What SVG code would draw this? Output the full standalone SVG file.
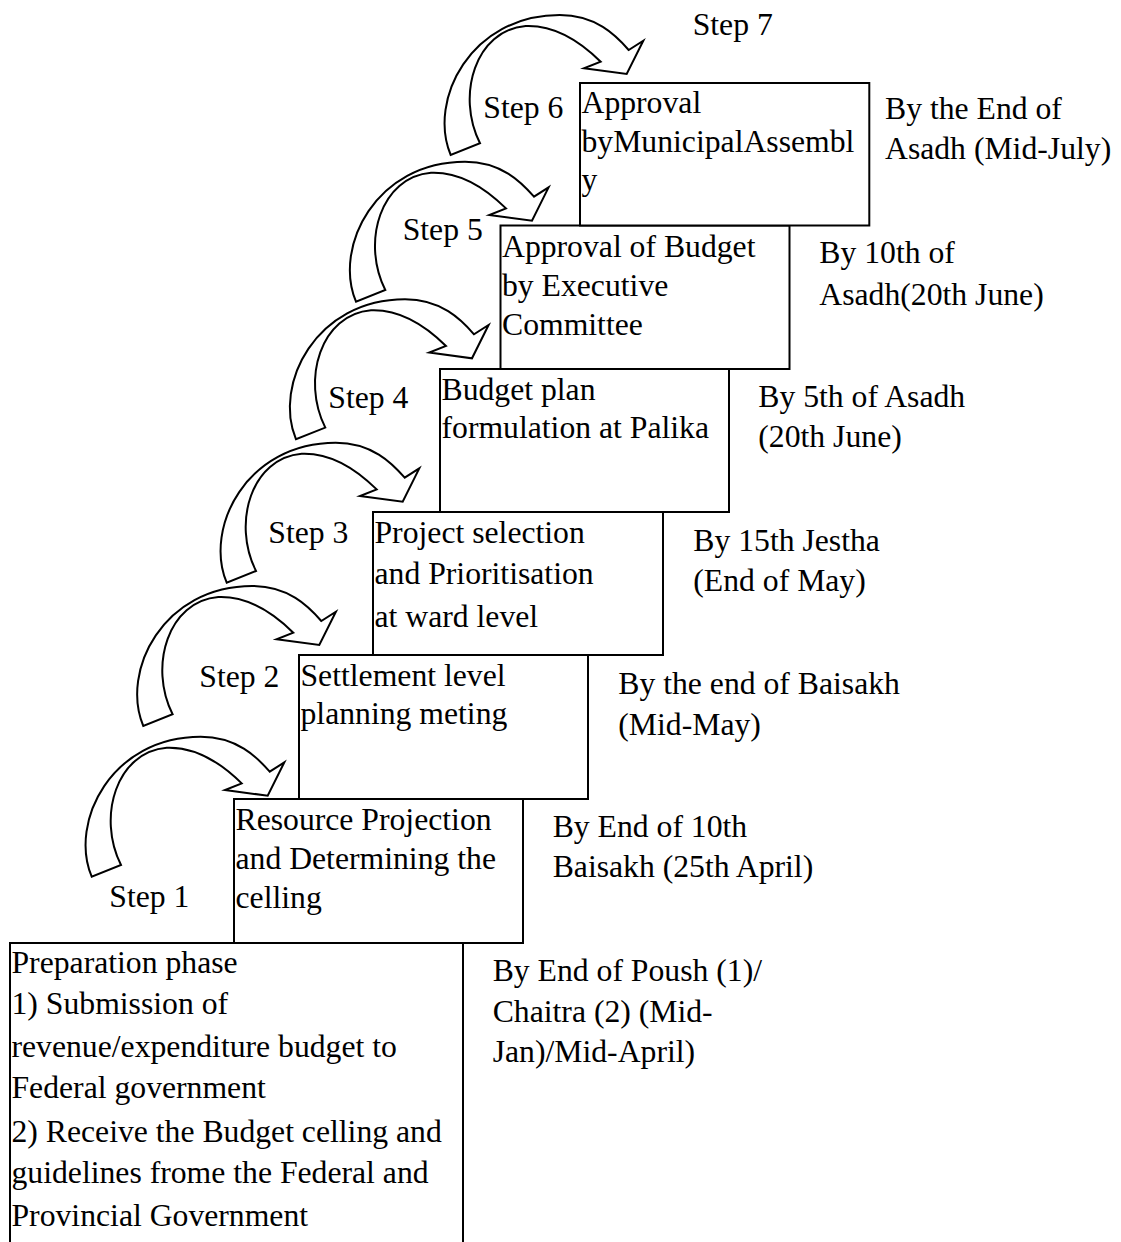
<svg xmlns="http://www.w3.org/2000/svg" width="1121" height="1242" viewBox="0 0 1121 1242">
<style>
text{font-family:"Liberation Serif","Times New Roman",serif;font-size:31.7px;fill:#000}
.box{fill:#fff;stroke:#000;stroke-width:2}
.arr{fill:#fff;stroke:#000;stroke-width:2;stroke-linejoin:miter}
</style>
<defs>
<path id="carrow" class="arr" d="M0,0 C-23,-55 20,-140 109,-140 C145,-140 165,-120 178,-105 L192.6,-114.3 L176,-81 L133.3,-86.7 L150,-93.3 C125,-118 100,-130 75,-129 C25,-125 5,-60 29.3,-11.7 Z"/>
</defs>
<rect width="1121" height="1242" fill="#fff"/>
<g id="connectors">
<use href="#carrow" transform="translate(91.7,876.7)"/>
<use href="#carrow" transform="translate(143.3,726)"/>
<use href="#carrow" transform="translate(226.7,582.7)"/>
<use href="#carrow" transform="translate(296,439.3)"/>
<use href="#carrow" transform="translate(356,301.7)"/>
<use href="#carrow" transform="translate(450.7,155)"/>
</g>
<g id="step-labels">
<text x="692.7" y="35">Step 7</text>
<text x="483.3" y="118.3">Step 6</text>
<text x="402.7" y="240">Step 5</text>
<text x="328.3" y="408.3">Step 4</text>
<text x="268.3" y="543.3">Step 3</text>
<text x="199.3" y="686.7">Step 2</text>
<text x="109.3" y="906.7">Step 1</text>
</g>
<g id="node-prep">
<rect class="box" x="10" y="943" width="453" height="320"/>
<text x="11.5" y="972.7">Preparation phase</text>
<text x="11.5" y="1014">1) Submission of</text>
<text x="11.5" y="1056.7">revenue/expenditure budget to</text>
<text x="11.5" y="1098">Federal government</text>
<text x="11.5" y="1141.7">2) Receive the Budget celling and</text>
<text x="11.5" y="1183">guidelines frome the Federal and</text>
<text x="11.5" y="1226">Provincial Government</text>
<text x="492.7" y="981">By End of Poush (1)/</text>
<text x="492.7" y="1021.6">Chaitra (2) (Mid-</text>
<text x="492.7" y="1062.3">Jan)/Mid-April)</text>
</g>
<g id="node-step1">
<rect class="box" x="234" y="799" width="289" height="144"/>
<text x="235.5" y="830">Resource Projection</text>
<text x="235.5" y="869">and Determining the</text>
<text x="235.5" y="908">celling</text>
<text x="552.7" y="836.7">By End of 10th</text>
<text x="552.7" y="877.4">Baisakh (25th April)</text>
</g>
<g id="node-step2">
<rect class="box" x="299" y="655" width="289" height="144"/>
<text x="300.5" y="685.7">Settlement level</text>
<text x="300.5" y="723.8">planning meting</text>
<text x="618.3" y="693.5">By the end of Baisakh</text>
<text x="618.3" y="735">(Mid-May)</text>
</g>
<g id="node-step3">
<rect class="box" x="373" y="512" width="290" height="143"/>
<text x="374.5" y="542.5">Project selection</text>
<text x="374.5" y="584.3">and Prioritisation</text>
<text x="374.5" y="626.5">at ward level</text>
<text x="693.3" y="550.7">By 15th Jestha</text>
<text x="693.3" y="590.6">(End of May)</text>
</g>
<g id="node-step4">
<rect class="box" x="440" y="369" width="289" height="143"/>
<text x="441.5" y="400">Budget plan</text>
<text x="441.5" y="438">formulation at Palika</text>
<text x="758.3" y="406.7">By 5th of Asadh</text>
<text x="758.3" y="446.7">(20th June)</text>
</g>
<g id="node-step5">
<rect class="box" x="500.5" y="225.5" width="289" height="143.5"/>
<text x="502" y="257">Approval of Budget</text>
<text x="502" y="296">by Executive</text>
<text x="502" y="335">Committee</text>
<text x="819.3" y="263.3">By 10th of</text>
<text x="819.3" y="305">Asadh(20th June)</text>
</g>
<g id="node-step7">
<rect class="box" x="580" y="83" width="289.3" height="142.5"/>
<text x="581.5" y="113.3">Approval</text>
<text x="581.5" y="152">byMunicipalAssembl</text>
<text x="581.5" y="190">y</text>
<text x="885" y="119">By the End of</text>
<text x="885" y="159.3">Asadh (Mid-July)</text>
</g>
</svg>
